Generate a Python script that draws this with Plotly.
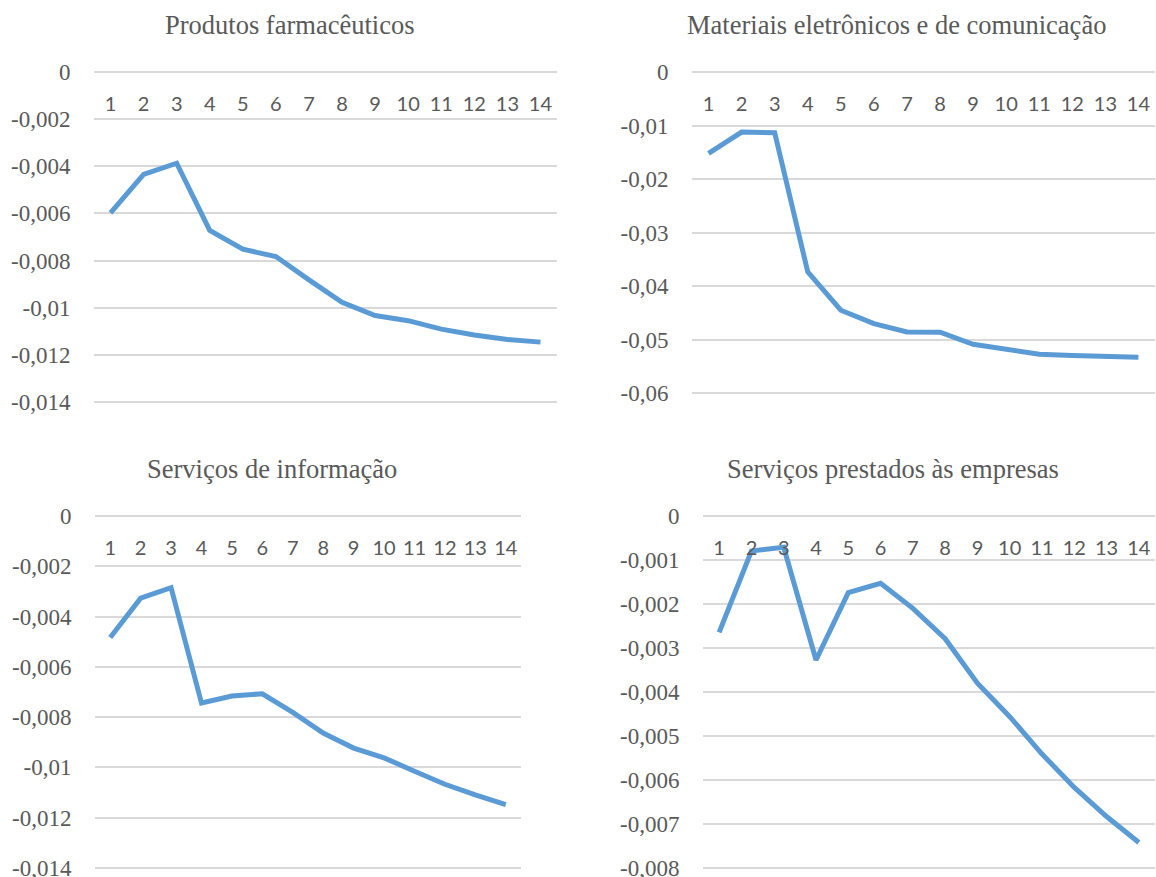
import plotly.graph_objects as go

# ---------------- data ----------------
periods = list(range(1, 15))

titles = [
    "Produtos farmacêuticos",
    "Materiais eletrônicos e de comunicação",
    "Serviços de informação",
    "Serviços prestados às empresas",
]

farmaceuticos = [-0.00598, -0.00434, -0.00387, -0.00672, -0.00752, -0.00783, -0.00882,
                 -0.00977, -0.01033, -0.01055, -0.01091, -0.01116, -0.01135, -0.01146]
eletronicos = [-0.01521, -0.01123, -0.01135, -0.03736, -0.04453, -0.04702, -0.04858,
               -0.04864, -0.05089, -0.05182, -0.05276, -0.05300, -0.05320, -0.05332]
informacao = [-0.00483, -0.00327, -0.00285, -0.00744, -0.00716, -0.00707, -0.00781,
              -0.00863, -0.00923, -0.00962, -0.01015, -0.01067, -0.01109, -0.01148]
empresas = [-0.002644, -0.000795, -0.000712, -0.003273, -0.001742, -0.00153, -0.0021,
            -0.00279, -0.0038, -0.00456, -0.00541, -0.00617, -0.00683, -0.00742]

yticks_farm = [0, -0.002, -0.004, -0.006, -0.008, -0.010, -0.012, -0.014]
ylabels_farm = ["0", "-0,002", "-0,004", "-0,006", "-0,008", "-0,01", "-0,012", "-0,014"]
yticks_elet = [0, -0.01, -0.02, -0.03, -0.04, -0.05, -0.06]
ylabels_elet = ["0", "-0,01", "-0,02", "-0,03", "-0,04", "-0,05", "-0,06"]
yticks_info = [0, -0.002, -0.004, -0.006, -0.008, -0.010, -0.012, -0.014]
ylabels_info = ["0", "-0,002", "-0,004", "-0,006", "-0,008", "-0,01", "-0,012", "-0,014"]
yticks_emp = [0, -0.001, -0.002, -0.003, -0.004, -0.005, -0.006, -0.007, -0.008]
ylabels_emp = ["0", "-0,001", "-0,002", "-0,003", "-0,004", "-0,005", "-0,006", "-0,007", "-0,008"]

# ---------------- layout helpers ----------------
W, H = 1156, 877
LINE_COLOR = "#5B9BD5"
GRID = "#D9D9D9"
TEXT = "#595959"
SERIF = "Times New Roman, Liberation Serif, serif"
SANS = "Lato"
PAD = 3  # px of padding so edge gridlines are drawn


def px_x(v):
    return v / W


def px_y(v):
    return 1 - v / H


# (series, yticks, ylabels, x-left px, x-right px, y-top px, y-bottom px, title center x px, title y px)
panels = [
    (farmaceuticos, yticks_farm, ylabels_farm, 94, 557, 72, 402, 289, 25),
    (eletronicos, yticks_elet, ylabels_elet, 692, 1155, 72, 393, 896, 25),
    (informacao, yticks_info, ylabels_info, 95, 521, 516, 868, 272, 469),
    (empresas, yticks_emp, ylabels_emp, 703, 1155, 516, 868, 893, 469),
]

fig = go.Figure()
layout = dict(
    width=W, height=H,
    margin=dict(l=0, r=0, t=0, b=0, autoexpand=False),
    paper_bgcolor="white", plot_bgcolor="white",
    showlegend=False,
    annotations=[],
)

for i, (vals, yt, yl, x0, x1, y0, y1, tx, ty) in enumerate(panels):
    n = "" if i == 0 else str(i + 1)
    lo = min(yt)
    vpp = -lo / (y1 - y0)
    fig.add_trace(go.Scatter(
        x=periods, y=vals, mode="lines",
        line=dict(color=LINE_COLOR, width=5),
        xaxis="x" + n, yaxis="y" + n, hoverinfo="skip",
    ))
    layout["xaxis" + n] = dict(
        domain=[px_x(x0), px_x(x1)],
        range=[0.5, 14.5],
        tickvals=periods,
        ticktext=[str(p) for p in periods],
        anchor="free",
        position=px_y(y0),
        side="bottom",
        automargin=False,
        ticklabeloverflow="allow",
        showgrid=False, zeroline=False, showline=False,
        ticks="outside", ticklen=14, tickcolor="rgba(0,0,0,0)",
        tickfont=dict(family=SANS, size=20, color=TEXT),
        fixedrange=True,
    )
    layout["yaxis" + n] = dict(
        domain=[px_y(y1 + PAD), px_y(y0 - PAD)],
        range=[lo - PAD * vpp, PAD * vpp],
        tickvals=yt,
        ticktext=yl,
        anchor="x" + n,
        automargin=False,
        ticklabeloverflow="allow",
        showgrid=True, gridcolor=GRID, gridwidth=1.6,
        zeroline=False, showline=False,
        ticks="outside", ticklen=18, tickcolor="rgba(0,0,0,0)",
        tickfont=dict(family=SERIF, size=23, color=TEXT),
        fixedrange=True,
    )
    layout["annotations"].append(dict(
        text=titles[i], x=px_x(tx), y=px_y(ty), xref="paper", yref="paper",
        xanchor="center", yanchor="middle", showarrow=False,
        font=dict(family=SERIF, size=26.5, color=TEXT),
    ))

fig.update_layout(**layout)
fig.write_html(
    "out.html",
    config={"displayModeBar": False},
    post_script="document.body.style.margin='0';document.body.style.overflow='hidden';",
)
